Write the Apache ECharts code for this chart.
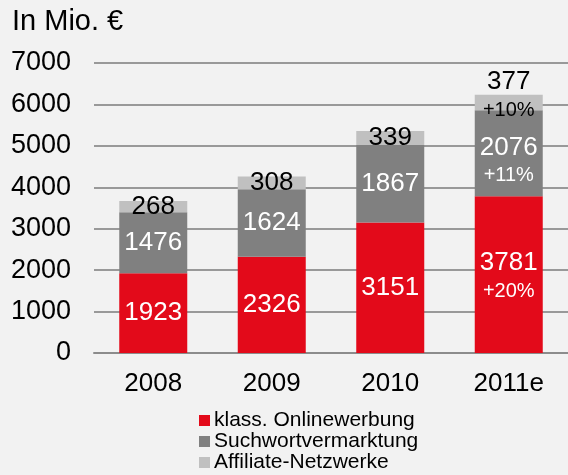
<!DOCTYPE html>
<html>
<head>
<meta charset="utf-8">
<script src="https://cdn.jsdelivr.net/npm/echarts@6/dist/echarts.min.js"></script>
<style>
  html, body { margin: 0; padding: 0; background: #f2f2f2; }
  #chart { width: 568px; height: 475px; }
</style>
</head>
<body>
<div id="chart"></div>
<script>
// Chart data
const years = ['2008', '2009', '2010', '2011e'];
const online = [1923, 2326, 3151, 3781];
const search = [1476, 1624, 1867, 2076];
const affiliate = [268, 308, 339, 377];
const growthOnline = ['', '', '', '+20%'];
const growthSearch = ['', '', '', '+11%'];
const growthAffiliate = ['', '', '', '+10%'];

const font = '"Liberation Sans", Arial, sans-serif';

// Build data items; the ones with a growth note get a shifted label
const withGrowth = (values, growth, shift) => values.map((v, i) =>
    growth[i] ? { value: v, label: { offset: [0, shift] } } : v
);

const labelFor = (growth, color) => ({
    show: true,
    position: 'inside',
    color: color,
    fontFamily: font,
    formatter: p => growth[p.dataIndex]
        ? '{v|' + p.value + '}\n{g|' + growth[p.dataIndex] + '}'
        : '{v|' + p.value + '}',
    rich: {
        v: { fontSize: 26, lineHeight: 31, color: color, fontFamily: font },
        g: { fontSize: 20, lineHeight: 26, color: color, fontFamily: font }
    }
});

const chart = echarts.init(document.getElementById('chart'));

const option = {
    backgroundColor: '#f2f2f2',
    animation: false,
    title: {
        text: 'In Mio. €',
        left: 12,
        top: 7,
        padding: 0,
        textStyle: { fontFamily: font, fontSize: 29, fontWeight: 'normal', color: '#000' }
    },
    legend: {
        orient: 'vertical',
        left: 199,
        top: 410,
        padding: 0,
        itemGap: 0,
        itemWidth: 11,
        itemHeight: 11,
        icon: 'rect',
        textStyle: { fontFamily: font, fontSize: 21, lineHeight: 21, color: '#000', padding: [0, 0, 0, -1] },
        data: ['klass. Onlinewerbung', 'Suchwortvermarktung', 'Affiliate-Netzwerke']
    },
    grid: {
        left: 94,
        right: -5,
        top: 63,
        bottom: 122
    },
    xAxis: {
        type: 'category',
        data: years,
        axisTick: { show: false },
        axisLine: { show: true, lineStyle: { color: '#8c8c8c', width: 2 } },
        axisLabel: { fontFamily: font, fontSize: 26, color: '#000', margin: 18 }
    },
    yAxis: {
        type: 'value',
        min: 0,
        max: 7000,
        interval: 1000,
        axisLine: { show: false },
        axisTick: { show: false },
        axisLabel: { fontFamily: font, fontSize: 27, color: '#000', margin: 23, formatter: v => String(v) },
        splitLine: { lineStyle: { color: '#999999', width: 2 } }
    },
    series: [
        {
            name: 'klass. Onlinewerbung',
            type: 'bar',
            stack: 'total',
            barWidth: 68,
            itemStyle: { color: '#e30a1a' },
            label: labelFor(growthOnline, '#ffffff'),
            data: withGrowth(online, growthOnline, 1)
        },
        {
            name: 'Suchwortvermarktung',
            type: 'bar',
            stack: 'total',
            barWidth: 68,
            itemStyle: { color: '#808080' },
            label: labelFor(growthSearch, '#ffffff'),
            data: withGrowth(search, growthSearch, 7)
        },
        {
            name: 'Affiliate-Netzwerke',
            type: 'bar',
            stack: 'total',
            barWidth: 68,
            itemStyle: { color: '#c0c0c0' },
            label: labelFor(growthAffiliate, '#000000'),
            data: withGrowth(affiliate, growthAffiliate, -8)
        }
    ]
};

chart.setOption(option);
window.addEventListener('resize', () => chart.resize());
</script>
</body>
</html>
